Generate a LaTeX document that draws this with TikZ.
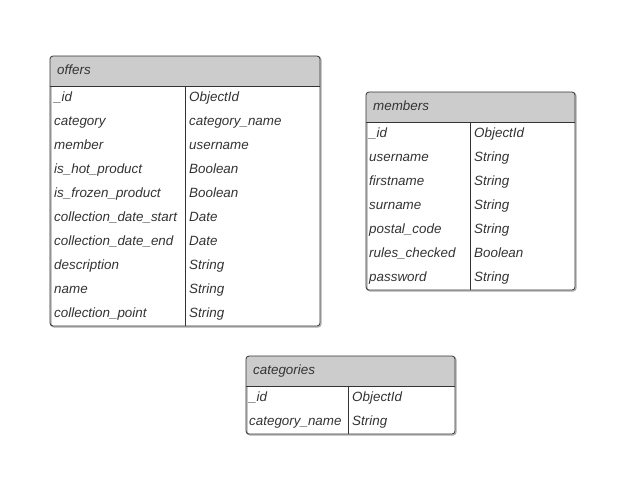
\documentclass[tikz,border=0pt]{standalone}
\usepackage{fontspec}
\setmainfont{Liberation Sans}
\usepackage{tikz}

\definecolor{headgray}{HTML}{CCCCCC}
\definecolor{linegray}{HTML}{333333}
\definecolor{txtgray}{HTML}{333333}
\definecolor{shadowgray}{HTML}{AAAAAA}

\tikzset{
  frame/.style={draw=linegray, line width=0.8pt},
  tframe/.style={frame, rounded corners=3pt},
  shadowframe/.style={draw=shadowgray, line width=1.2pt, rounded corners=3pt},
  cell/.style={anchor=base west, inner sep=0pt, text=txtgray,
    font=\fontsize{13.4}{15}\selectfont\itshape},
}

\begin{document}
\begin{tikzpicture}[x=1pt,y=-1pt]
   \useasboundingbox (0,0) rectangle (634,482);

   % offers
   \draw[shadowframe] (51,57) rectangle (321,327);
   \fill[headgray] (50,86) [rounded corners=3pt] -- (50,56) -- (320,56) [sharp corners] -- (320,86) -- cycle;
   \draw[tframe] (50,56) rectangle (320,326);
   \draw[frame] (50,86) -- (320,86);
   \draw[frame] (185,86) -- (185,326);
   \node[cell] (offers) at (57,74) {offers};
   \foreach \f/\t [count=\i from 0] in {\_id/ObjectId, category/category\_name,
       member/username, is\_hot\_product/Boolean, is\_frozen\_product/Boolean,
       collection\_date\_start/Date, collection\_date\_end/Date,
       description/String, name/String, collection\_point/String} {
     \node[cell] (offers-f\i) at (54,{101.5+24*\i}) {\f};
     \node[cell] (offers-t\i) at (189,{101.5+24*\i}) {\t};
   }

   % members
   \draw[shadowframe] (367,93) rectangle (576,291);
   \fill[headgray] (366,122) [rounded corners=3pt] -- (366,92) -- (575,92) [sharp corners] -- (575,122) -- cycle;
   \draw[tframe] (366,92) rectangle (575,290);
   \draw[frame] (366,122) -- (575,122);
   \draw[frame] (470,122) -- (470,290);
   \node[cell] (members) at (373,110) {members};
   \foreach \f/\t [count=\i from 0] in {\_id/ObjectId, username/String,
       firstname/String, surname/String, postal\_code/String,
       rules\_checked/Boolean, password/String} {
     \node[cell] (members-f\i) at (369,{137.5+24*\i}) {\f};
     \node[cell] (members-t\i) at (474,{137.5+24*\i}) {\t};
   }

   % categories
   \draw[shadowframe] (247,357) rectangle (456,435);
   \fill[headgray] (246,386) [rounded corners=3pt] -- (246,356) -- (455,356) [sharp corners] -- (455,386) -- cycle;
   \draw[tframe] (246,356) rectangle (455,434);
   \draw[frame] (246,386) -- (455,386);
   \draw[frame] (348,386) -- (348,434);
   \node[cell] (categories) at (253,374) {categories};
   \foreach \f/\t [count=\i from 0] in {\_id/ObjectId, category\_name/String} {
     \node[cell] (categories-f\i) at (249,{401.5+24*\i}) {\f};
     \node[cell] (categories-t\i) at (352,{401.5+24*\i}) {\t};
   }
\end{tikzpicture}
\end{document}
